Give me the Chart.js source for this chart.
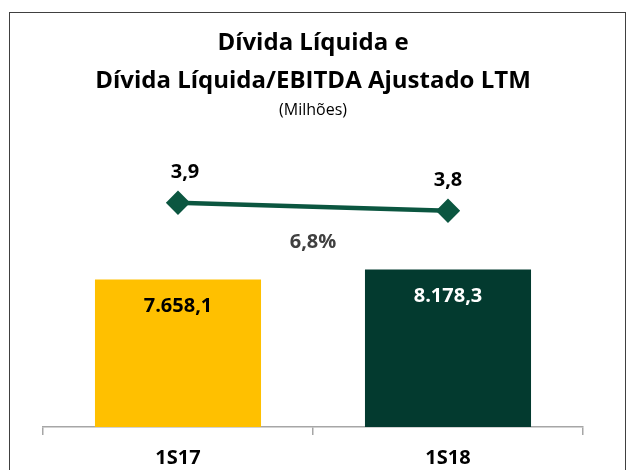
<!DOCTYPE html>
<html>
<head>
<meta charset="utf-8">
<script src="https://cdn.jsdelivr.net/npm/chart.js@4"></script>
<style>
  html, body { margin: 0; padding: 0; background: #fff; }
  #wrap { position: relative; width: 634px; height: 470px; }
  #frame { position: absolute; left: 9px; top: 12px; width: 617px; height: 470px;
           border: 1.5px solid #404040; box-sizing: border-box; pointer-events: none; }
</style>
</head>
<body>
<div id="wrap">
  <canvas id="chart" width="634" height="470"></canvas>
  <div id="frame"></div>
</div>
<script>
const periodos = ['1S17', '1S18'];
const dividaLiquida = [7658.1, 8178.3];
const alavancagem = [3.9, 3.8];
const coresBarras = ['#FFC000', '#033A2F'];
const coresRotulos = ['#000000', '#FFFFFF'];

const fmtMil = v => v.toLocaleString('pt-BR', { minimumFractionDigits: 1, maximumFractionDigits: 1 });
const variacao = (dividaLiquida[1] / dividaLiquida[0] - 1) * 100;

// rótulos desenhados à mão (sem plugin externo)
const rotulos = {
    id: 'rotulos',
    afterDatasetsDraw(chart) {
        const ctx = chart.ctx;
        ctx.save();
        ctx.textAlign = 'center';
        ctx.textBaseline = 'middle';
        ctx.font = 'bold 20px "Open Sans"';

        const barras = chart.getDatasetMeta(1).data;
        barras.forEach((bar, i) => {
            ctx.fillStyle = coresRotulos[i];
            ctx.fillText(fmtMil(dividaLiquida[i]), bar.x, bar.y + 27);
        });

        const pontos = chart.getDatasetMeta(0).data;
        ctx.fillStyle = '#000';
        pontos.forEach((p, i) => {
            ctx.fillText(fmtMil(alavancagem[i]), p.x + (i === 0 ? 7 : 0), p.y - 30);
        });

        const xs = chart.scales.x;
        ctx.fillStyle = '#404040';
        ctx.fillText(fmtMil(variacao) + '%', (xs.left + xs.right) / 2, 242);
        ctx.restore();
    }
};

new Chart(document.getElementById('chart'), {
    type: 'bar',
    data: {
        labels: periodos,
        datasets: [
            {
                type: 'line',
                label: 'Dívida Líquida/EBITDA',
                data: alavancagem,
                yAxisID: 'y2',
                borderColor: '#0B5640',
                backgroundColor: '#0B5640',
                borderWidth: 4.5,
                pointStyle: 'rectRot',
                pointRadius: 9,
                pointHoverRadius: 9
            },
            {
                label: 'Dívida Líquida',
                data: dividaLiquida,
                yAxisID: 'y',
                backgroundColor: coresBarras,
                barPercentage: 0.615,
                categoryPercentage: 1
            }
        ]
    },
    options: {
        responsive: false,
        animation: false,
        layout: { padding: { left: 43, right: 51, top: 0, bottom: -11 } },
        plugins: {
            legend: { display: false },
            tooltip: { enabled: false },
            title: {
                display: true,
                text: ['Dívida Líquida e', 'Dívida Líquida/EBITDA Ajustado LTM'],
                color: '#000',
                font: { family: 'Open Sans', size: 24, weight: 'bold', lineHeight: 1.6 },
                padding: { top: 24, bottom: 0 }
            },
            subtitle: {
                display: true,
                text: '(Milhões)',
                color: '#000',
                font: { family: 'Open Sans', size: 16 },
                padding: { top: 0, bottom: 6 }
            }
        },
        scales: {
            x: {
                grid: { display: true, drawOnChartArea: false, drawTicks: true, tickLength: 8, color: '#A6A6A6', lineWidth: 1.5 },
                border: { display: true, color: '#A6A6A6', width: 1.5 },
                ticks: { color: '#000', padding: 11, font: { family: 'Open Sans', size: 20, weight: 'bold' } }
            },
            y: {
                display: false,
                min: 0,
                max: 15627
            },
            y2: {
                display: false,
                position: 'right',
                min: 1.0875,
                max: 4.8625
            }
        }
    },
    plugins: [rotulos]
});
</script>
</body>
</html>
